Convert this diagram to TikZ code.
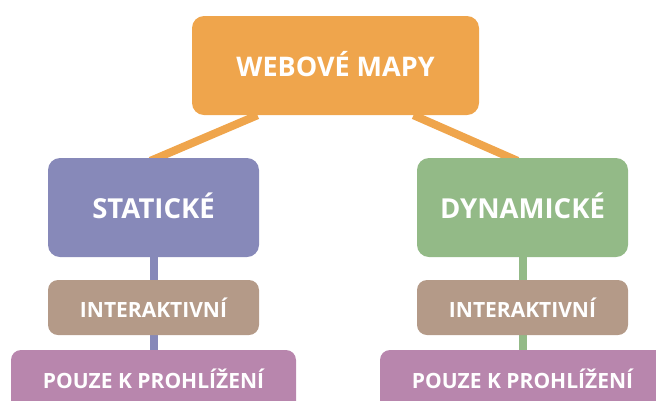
\documentclass[tikz,border=0pt]{standalone}
\usepackage{fontspec}
\setmainfont{Open Sans}
\usetikzlibrary{calc,backgrounds}
\definecolor{cOrange}{HTML}{EFA54C}
\definecolor{cPurple}{HTML}{8789B9}
\definecolor{cGreen}{HTML}{93BA87}
\definecolor{cBrown}{HTML}{B49A88}
\definecolor{cPink}{HTML}{B886AD}
\newcommand{\lift}[2]{\raisebox{#1}{#2}}
\begin{document}
\begin{tikzpicture}[x=1pt,y=-1pt,
  box/.style={rounded corners=12pt, inner sep=0pt, text=white, font=\bfseries},
  bigbox/.style={box, minimum width=211pt, minimum height=99pt, font=\bfseries\fontsize{27.5}{30}\selectfont},
  topbox/.style={box, minimum width=287pt, minimum height=99pt, font=\bfseries\fontsize{27}{30}\selectfont},
  midbox/.style={box, rounded corners=10pt, fill=cBrown, minimum width=211pt, minimum height=55pt, font=\bfseries\fontsize{21}{24}\selectfont},
  lowbox/.style={box, rounded corners=10pt, fill=cPink, minimum width=285pt, minimum height=62pt, font=\bfseries\fontsize{21}{24}\selectfont},
  link/.style={line width=8pt}]
\useasboundingbox (0,0) rectangle (656,400);
\clip (0,0) rectangle (656,400);
\node[topbox, fill=cOrange] (top) at (335.5,65.5) {\lift{4pt}{WEBOVÉ MAPY}};
\node[bigbox, fill=cPurple] (stat) at (153.5,207.5) {\lift{3pt}{STATICKÉ}};
\node[bigbox, fill=cGreen] (dyn) at (522.5,207.5) {\lift{3pt}{DYNAMICKÉ}};
\node[midbox] (i1) at (153.5,307.5) {INTERAKTIVNÍ};
\node[midbox] (i2) at (522.5,307.5) {INTERAKTIVNÍ};
\node[lowbox] (p1) at (153.5,381) {\lift{4pt}{POUZE K PROHLÍŽENÍ}};
\node[lowbox] (p2) at (522.5,381) {\lift{4pt}{POUZE K PROHLÍŽENÍ}};
\begin{scope}[on background layer]
\draw[link, cOrange] ($(top.south)+(-78,0)$) -- ($(stat.north)+(-3,3)$);
\draw[link, cOrange] ($(top.south)+(78,0)$) -- ($(dyn.north)+(-5,3)$);
\draw[link, cPurple] (stat.south) -- (p1.north);
\draw[link, cGreen] (dyn.south) -- (p2.north);
\end{scope}
\end{tikzpicture}
\end{document}
